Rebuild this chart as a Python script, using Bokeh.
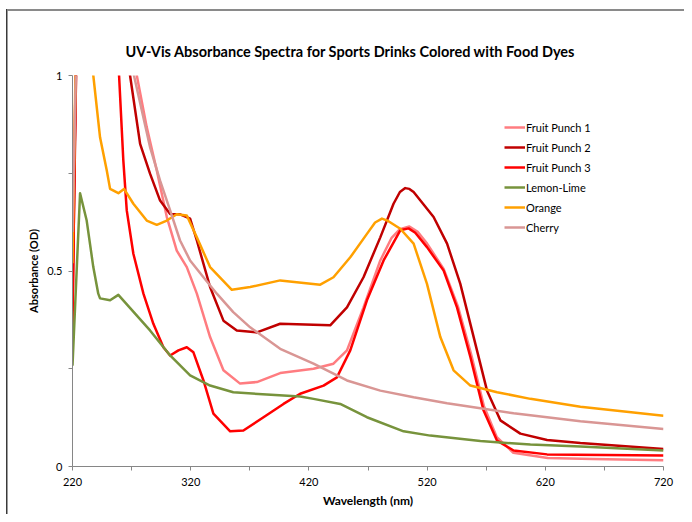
from bokeh.plotting import figure
from bokeh.models import FixedTicker, Legend
from bokeh.embed import file_html
from bokeh.resources import INLINE

# ---- data ----
fp1_wl = [220, 223.5, 268, 274.4, 282.8, 291.3, 299.8, 308.2, 316.7, 325.2, 336.4, 347.7, 361.8, 376, 395.7,
          423.9, 440.8, 452.2, 466.2, 480.4, 490, 497, 505, 512, 520, 534, 546, 557, 568, 579, 593, 622, 660, 720]
fp1_ab = [0.45, 1.1, 1.1, 1.0, 0.868, 0.757, 0.638, 0.552, 0.51, 0.442, 0.331, 0.246, 0.212, 0.216, 0.239,
          0.25, 0.263, 0.297, 0.407, 0.527, 0.585, 0.607, 0.614, 0.6, 0.57, 0.505, 0.41, 0.29, 0.155, 0.075, 0.035, 0.022, 0.019, 0.016]

fp2_wl = [220, 223.5, 262, 268.7, 277.2, 285.6, 294.1, 302.6, 311, 319.5, 325.2, 336.4, 347.7, 359, 376, 395.7,
          438, 452.2, 466.2, 480.4, 491.6, 497, 501.5, 505, 508.6, 525.5, 536.9, 548.1, 559.4, 570.7, 582, 598.9,
          621.5, 649.7, 720]
fp2_ab = [0.4, 1.1, 1.1, 1.0, 0.825, 0.749, 0.68, 0.646, 0.645, 0.634, 0.578, 0.459, 0.373, 0.348, 0.343, 0.365,
          0.361, 0.407, 0.484, 0.586, 0.672, 0.702, 0.712, 0.71, 0.702, 0.638, 0.57, 0.467, 0.331, 0.194, 0.118,
          0.084, 0.068, 0.06, 0.045]

fp3_wl = [220, 223, 255, 259.4, 263, 265.9, 271.5, 280, 288.4, 296.9, 302.6, 309.6, 316.7, 322.3, 330.8, 339.2,
          353.4, 364.6, 381.6, 398.5, 412.6, 432.4, 443.7, 455, 469.1, 483.2, 497.3, 504.3, 510, 519.9, 534, 545.3,
          556.6, 567.8, 579.2, 593.2, 621.5, 720]
fp3_ab = [0.35, 1.1, 1.1, 1.0, 0.783, 0.655, 0.544, 0.442, 0.365, 0.305, 0.284, 0.297, 0.305, 0.292, 0.22, 0.135,
          0.09, 0.092, 0.126, 0.16, 0.186, 0.207, 0.228, 0.297, 0.425, 0.527, 0.604, 0.609, 0.598, 0.561, 0.501, 0.407,
          0.28, 0.143, 0.066, 0.041, 0.031, 0.028]

lime_wl = [220, 226.4, 232, 237.6, 241.8, 243.3, 251.8, 258.8, 285.6, 302.6, 319.5, 336.4, 356, 384.4, 412.6,
           423.9, 446.5, 469.1, 500.1, 522.7, 565.1, 607.4, 649.7, 720]
lime_ab = [0.258, 0.699, 0.629, 0.51, 0.442, 0.43, 0.425, 0.439, 0.348, 0.284, 0.233, 0.207, 0.19, 0.184, 0.179,
           0.173, 0.16, 0.126, 0.09, 0.079, 0.065, 0.056, 0.051, 0.041]

orange_wl = [220, 223, 234, 237.6, 243.3, 249, 251.8, 258.8, 263.6, 271.5, 282.8, 291.3, 299.8, 308.2, 316.7,
             325.2, 336.4, 354.8, 370.3, 395.7, 429.6, 440.8, 455, 469.1, 476, 481.8, 487, 497.3, 508.6, 519.9,
             531.2, 542.4, 556.6, 579.2, 607.4, 649.7, 720]
orange_ab = [0.52, 1.1, 1.1, 1.0, 0.842, 0.757, 0.71, 0.699, 0.71, 0.672, 0.629, 0.618, 0.629, 0.645, 0.642,
             0.586, 0.51, 0.452, 0.459, 0.476, 0.465, 0.484, 0.535, 0.595, 0.624, 0.634, 0.628, 0.608, 0.57, 0.467,
             0.331, 0.246, 0.207, 0.19, 0.173, 0.153, 0.13]

cherry_wl = [220, 223.5, 268, 272, 285.6, 294.1, 302.6, 311, 319.5, 330.8, 342.1, 356, 370.3, 395.7, 423.9,
             452.2, 480.4, 508.6, 536.9, 565.1, 593.2, 621.5, 649.7, 720]
cherry_ab = [0.6, 1.1, 1.1, 1.0, 0.817, 0.731, 0.655, 0.578, 0.527, 0.484, 0.442, 0.395, 0.356, 0.301, 0.263,
             0.22, 0.194, 0.177, 0.162, 0.149, 0.136, 0.126, 0.116, 0.096]

series_names = ["Fruit Punch 1", "Fruit Punch 2", "Fruit Punch 3", "Lemon-Lime", "Orange", "Cherry"]
series_colors = ["#FF7C80", "#C00000", "#FF0000", "#77933C", "#FFA000", "#D99694"]

x_ticks = [220, 270, 320, 370, 420, 470, 520, 570, 620, 670, 720]
x_labels = ["220", "", "320", "", "420", "", "520", "", "620", "", "720"]
y_ticks = [0, 0.5, 1]
y_minor = [0.25, 0.75]
y_labels = ["0", "0.5", "1"]

FONT = "Lato"

p = figure(width=684, height=514, output_backend="svg", toolbar_location=None,
           x_range=(220, 720), y_range=(0, 1),
           min_border_left=72, min_border_right=21, min_border_top=75, min_border_bottom=48,
           title="UV-Vis Absorbance Spectra for Sports Drinks Colored with Food Dyes")

# cropped Excel chart-area border, painted behind a transparent canvas
p.border_fill_alpha = 0
p.background_fill_color = "white"
p.styles = {
    "background": "linear-gradient(#8a8a8a, #8a8a8a) 7px 9px / 100% 2px no-repeat, "
                  "linear-gradient(#3a3a3a, #3a3a3a) 6px 9px / 1.5px 100% no-repeat, white"
}

p.title.text_font = FONT
p.title.text_font_size = "14.5px"
p.title.text_font_style = "bold"
p.title.text_color = "#000000"
p.title.align = "left"
p.title.offset = 53
p.title.standoff = 32

p.outline_line_color = None
p.xgrid.grid_line_color = None
p.ygrid.grid_line_color = None

for ax in (p.xaxis[0], p.yaxis[0]):
    ax.axis_line_color = "#868686"
    ax.axis_line_width = 1
    ax.major_tick_line_color = "#868686"
    ax.minor_tick_line_color = "#868686"
    ax.major_tick_in = 0
    ax.major_tick_out = 4
    ax.minor_tick_in = 0
    ax.minor_tick_out = 4
    ax.major_label_text_font = FONT
    ax.major_label_text_font_size = "11px"
    ax.major_label_text_color = "#000000"
    ax.axis_label_text_font = FONT
    ax.axis_label_text_font_style = "bold"
    ax.axis_label_text_color = "#000000"

p.xaxis[0].ticker = FixedTicker(ticks=x_ticks, minor_ticks=[])
p.xaxis[0].major_label_overrides = {t: l for t, l in zip(x_ticks, x_labels)}
p.xaxis[0].axis_label = "Wavelength (nm)"
p.xaxis[0].axis_label_text_font_size = "12px"
p.xaxis[0].major_label_standoff = 7
p.xaxis[0].axis_label_standoff = 4

p.yaxis[0].ticker = FixedTicker(ticks=y_ticks, minor_ticks=y_minor)
p.yaxis[0].major_label_overrides = {t: l for t, l in zip(y_ticks, y_labels)}
p.yaxis[0].axis_label = "Absorbance (OD)"
p.yaxis[0].axis_label_text_font_size = "11px"
p.yaxis[0].major_label_standoff = 6
p.yaxis[0].axis_label_standoff = 4

all_wl = [fp1_wl, fp2_wl, fp3_wl, lime_wl, orange_wl, cherry_wl]
all_ab = [fp1_ab, fp2_ab, fp3_ab, lime_ab, orange_ab, cherry_ab]
items = []
for name, col, wl, ab in zip(series_names, series_colors, all_wl, all_ab):
    r = p.line(wl, ab, line_color=col, line_width=2.5, line_join="round")
    items.append((name, [r]))

legend = Legend(items=items, location=(432, 229))
legend.border_line_color = None
legend.background_fill_alpha = 0
legend.padding = 0
legend.margin = 0
legend.spacing = 0
legend.glyph_width = 21
legend.glyph_height = 20
legend.label_height = 20
legend.label_standoff = 1
legend.label_text_font = FONT
legend.label_text_font_size = "11px"
legend.label_text_color = "#000000"
p.add_layout(legend, "center")

open("out.html", "w").write(file_html(p, INLINE))
